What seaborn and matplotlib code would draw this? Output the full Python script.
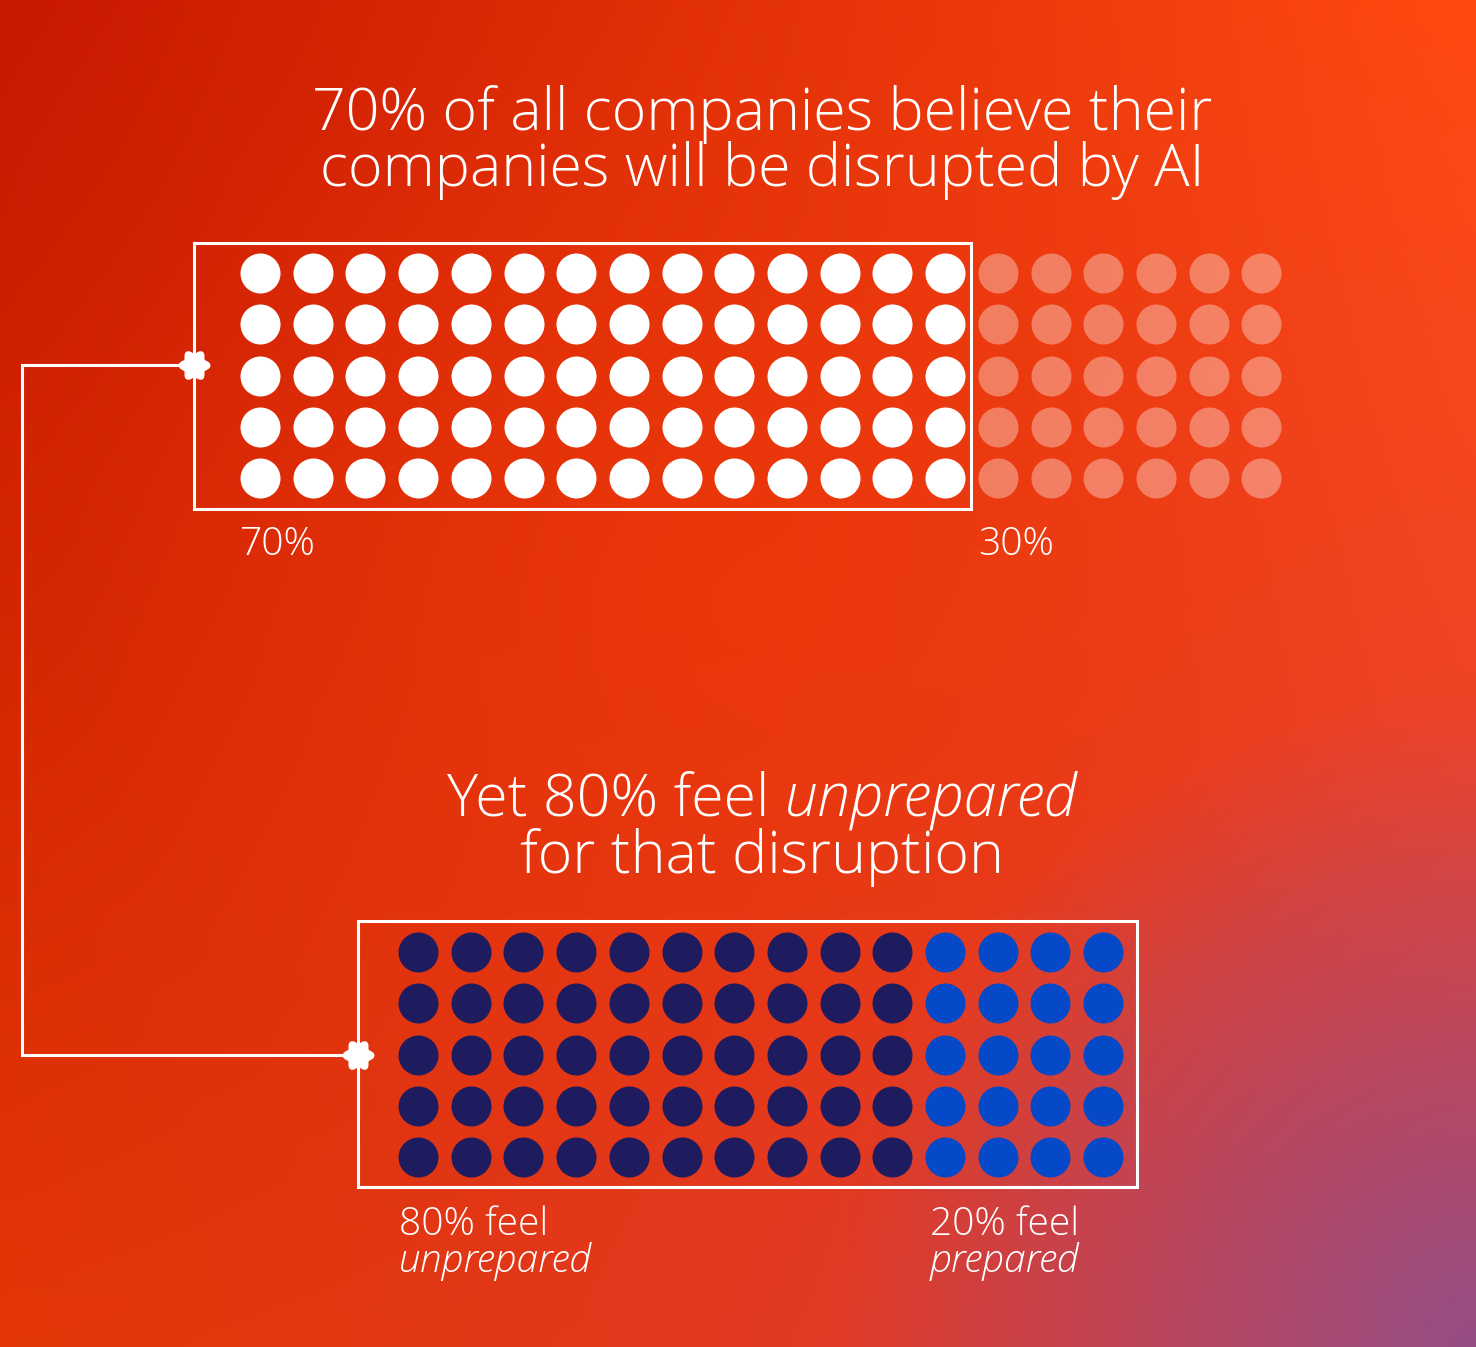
import numpy as np
import pandas as pd
import matplotlib
matplotlib.use("Agg")
import matplotlib.pyplot as plt
import seaborn as sns

# --- data ---
top_groups = ["believe disrupted", "do not"]
top_counts = [70, 30]
top_labels = ["70%", "30%"]
top_colors = ["#ffffff", "#ffffff"]
top_alpha = [1.0, 0.35]

bottom_groups = ["unprepared", "prepared"]
bottom_counts = [50, 20]
bottom_labels = [("80% feel", "unprepared"), ("20% feel", "prepared")]
bottom_colors = ["#1e1c5e", "#0549c9"]

n_rows = 5

title_top = ["70% of all companies believe their", "companies will be disrupted by AI"]
title_bottom = [("Yet 80% feel ", "unprepared"), ("for that disruption", "")]

W, H = 1476, 1347
FONT = "Open Sans"
WEIGHT = 300


def waffle_frame(groups, counts):
    recs = []
    i = 0
    for g, c in zip(groups, counts):
        for _ in range(c):
            recs.append({"col": i // n_rows, "row": i % n_rows, "group": g})
            i += 1
    return pd.DataFrame(recs)


def grid_axes(fig, x0, y0, dx, dy, ncols):
    # axes whose data units are dot columns / rows
    left = x0 - dx / 2
    top = y0 - dy / 2
    w = dx * ncols
    h = dy * n_rows
    ax = fig.add_axes([left / W, 1 - (top + h) / H, w / W, h / H])
    ax.set_xlim(-0.5, ncols - 0.5)
    ax.set_ylim(n_rows - 0.5, -0.5)
    ax.axis("off")
    ax.patch.set_alpha(0)
    return ax


sns.set_theme(style="white")
plt.rcParams["font.family"] = [FONT, "DejaVu Sans"]

fig = plt.figure(figsize=(W / 100, H / 100), dpi=100)

# background gradient
bg = fig.add_axes([0, 0, 1, 1])
bg.set_xlim(0, W)
bg.set_ylim(H, 0)
bg.axis("off")
ny, nx = 120, 130
yy, xx = np.mgrid[0:1:ny * 1j, 0:1:nx * 1j]
tl = np.array([200, 24, 0])
tr = np.array([255, 74, 16])
bl = np.array([228, 54, 6])
br = np.array([225, 62, 60])
img = (tl[None, None] * ((1 - xx) * (1 - yy))[..., None]
       + tr[None, None] * (xx * (1 - yy))[..., None]
       + bl[None, None] * ((1 - xx) * yy)[..., None]
       + br[None, None] * (xx * yy)[..., None])
# warm centre
cw = np.clip(1 - np.hypot(xx - 0.5, yy - 0.45) / 0.45, 0, 1)[..., None]
img = img * (1 - 0.5 * cw) + np.array([244, 58, 0]) * 0.5 * cw
# purple corner
d = np.hypot((xx - 1.0) * W, (yy - 1.0) * H)
pw = (np.clip(1 - d / 650, 0, 1) ** 1.0)[..., None]
img = img * (1 - pw) + np.array([150, 78, 132]) * pw
bg.imshow(img / 255, extent=[0, W, H, 0], aspect="auto", interpolation="bicubic", zorder=0)

# top waffle
top_df = waffle_frame(top_groups, top_counts)
ax1 = grid_axes(fig, 260, 273, 52.7, 51.3, int(np.ceil(sum(top_counts) / n_rows)))
for g, c, a in zip(top_groups, top_colors, top_alpha):
    sns.scatterplot(data=top_df[top_df["group"] == g], x="col", y="row", color=c, alpha=a,
                    s=830, linewidth=0, legend=False, ax=ax1)
ax1.set_xlabel("")
ax1.set_ylabel("")

# bottom waffle
bot_df = waffle_frame(bottom_groups, bottom_counts)
ax2 = grid_axes(fig, 418, 952, 52.7, 51.3, int(np.ceil(sum(bottom_counts) / n_rows)))
for g, c in zip(bottom_groups, bottom_colors):
    sns.scatterplot(data=bot_df[bot_df["group"] == g], x="col", y="row", color=c,
                    s=830, linewidth=0, legend=False, ax=ax2)
ax2.set_xlabel("")
ax2.set_ylabel("")

# frames and connector
ov = fig.add_axes([0, 0, 1, 1])
ov.set_xlim(0, W)
ov.set_ylim(H, 0)
ov.axis("off")
ov.patch.set_alpha(0)
ov.add_patch(plt.Rectangle((194, 243), 777, 266, fill=False, ec="white", lw=2.2))
ov.add_patch(plt.Rectangle((358, 921), 779, 266, fill=False, ec="white", lw=2.2))
ov.plot([194, 22, 22, 358], [365, 365, 1055, 1055], color="white", lw=2.2, solid_joinstyle="miter")
th = np.linspace(0, 2 * np.pi, 241)
r = 1 + 0.16 * np.cos(6 * th)
flower = np.column_stack([r * np.cos(th), r * np.sin(th)])
ov.plot([194, 358], [365, 1055], ls="none", marker=flower, ms=22, color="white", mec="white")

fig.canvas.draw()
rend = fig.canvas.get_renderer()


def fitted_size(txt, target_w, style="normal"):
    t = ov.text(0, 0, txt, fontsize=40, style=style, fontweight=WEIGHT)
    w = t.get_window_extent(rend).width
    t.remove()
    return 40 * target_w / w


# titles
fs_title = fitted_size(title_top[0], 898)
for txt, yb in zip(title_top, [130, 186]):
    ov.text(762, yb, txt, ha="center", va="baseline", color="white", fontsize=fs_title,
            fontweight=WEIGHT)

for (reg, ita), yb in zip(title_bottom, [815, 873]):
    t1 = ov.text(0, yb, reg, ha="left", va="baseline", color="white", fontsize=fs_title,
                 fontweight=WEIGHT)
    parts = [t1]
    if ita:
        t2 = ov.text(0, yb, ita, ha="left", va="baseline", color="white", fontsize=fs_title,
                     style="italic", fontweight=WEIGHT)
        parts.append(t2)
    widths = [p.get_window_extent(rend).width for p in parts]
    x = 762 - sum(widths) / 2
    for p, w in zip(parts, widths):
        p.set_x(x)
        x += w

# labels
fs_lab = fitted_size(bottom_labels[0][0], 149)
ov.text(240, 555, top_labels[0], color="white", fontsize=fs_lab, va="baseline", fontweight=WEIGHT)
ov.text(978, 555, top_labels[1], color="white", fontsize=fs_lab, va="baseline", fontweight=WEIGHT)
for (a, b), x in zip(bottom_labels, [399, 930]):
    ov.text(x, 1235, a, color="white", fontsize=fs_lab, va="baseline", fontweight=WEIGHT)
    ov.text(x, 1272, b, color="white", fontsize=fs_lab, style="italic", va="baseline",
            fontweight=WEIGHT)

fig.savefig("out.png", dpi=100)
